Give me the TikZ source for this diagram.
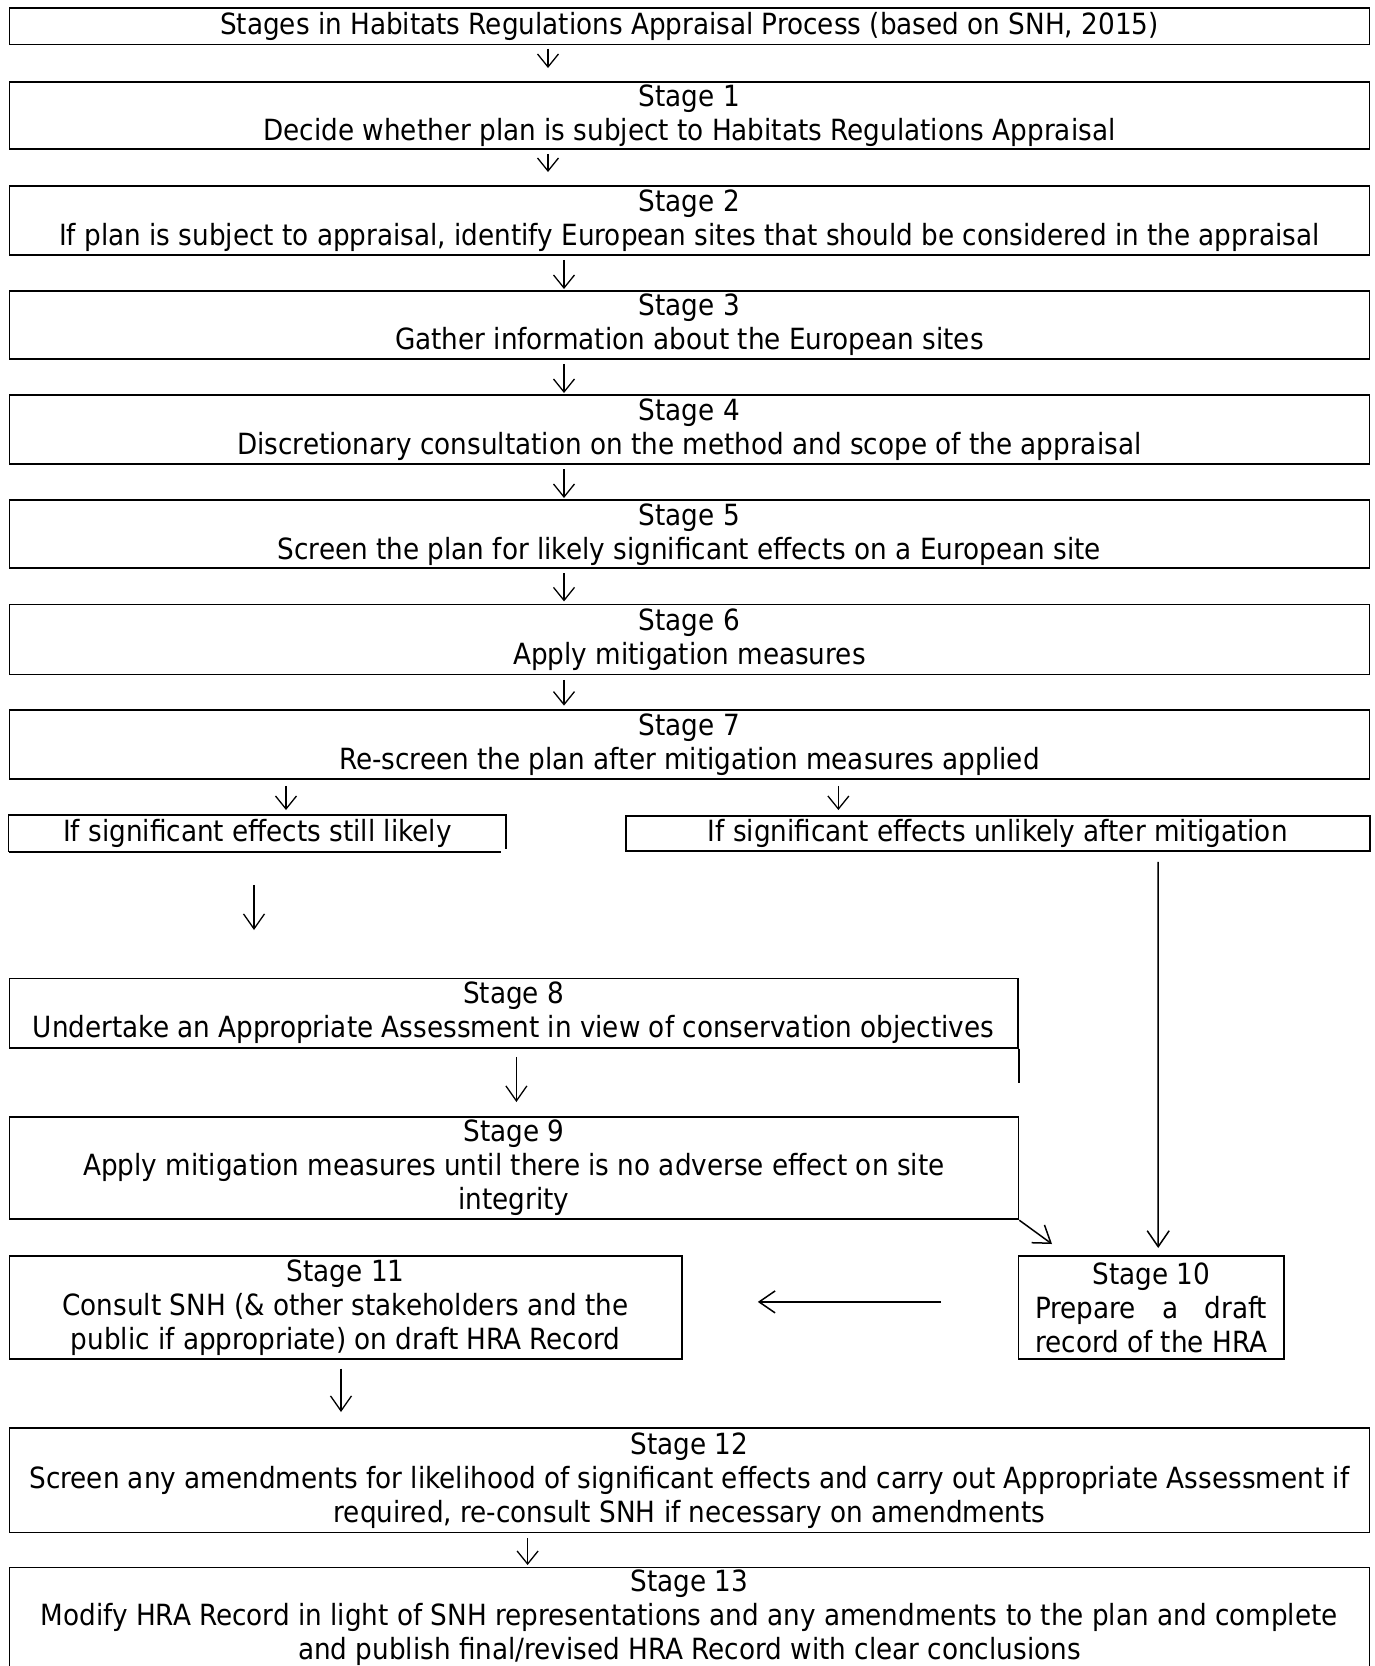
\documentclass[tikz,border=0pt]{standalone}
\usepackage{fontspec}
\setmainfont{DejaVu Sans Condensed}
\usepackage{calc}
\usetikzlibrary{calc,arrows.meta}
\tikzset{
	stagebox/.style={draw, line width=0.9pt, inner sep=0pt, anchor=north west, align=center},
	boxline/.style={line width=0.9pt},
	smalltip/.style={-{Straight Barb[length=6.5pt,width=10.5pt]}, line width=0.65pt},
	midtip/.style={-{Straight Barb[length=7.5pt,width=10.5pt]}, line width=0.65pt},
	bigtip/.style={-{Straight Barb[length=8pt,width=11pt]}, line width=0.75pt}
}

\begin{document}
\begin{tikzpicture}[x=1pt,y=-1pt,font=\fontsize{14.6}{17}\selectfont]
				\clip (0,0) rectangle (687.5,833);
				
				\node[stagebox, minimum width=680pt, minimum height=18.1pt] (title) at (4.25,3.7)
				{Stages in Habitats Regulations Appraisal Process (based on SNH, 2015)};
				\node[stagebox, minimum width=680pt, minimum height=33.5pt] (s1) at (4.25,40.4)
				{Stage 1\\Decide whether plan is subject to Habitats Regulations Appraisal};
				\node[stagebox, minimum width=680pt, minimum height=34.5pt] (s2) at (4.25,92.5)
				{Stage 2\\If plan is subject to appraisal, identify European sites that should be considered in the appraisal};
				\node[stagebox, minimum width=680pt, minimum height=34pt] (s3) at (4.25,145)
				{Stage 3\\Gather information about the European sites};
				\node[stagebox, minimum width=680pt, minimum height=34.5pt] (s4) at (4.25,197)
				{Stage 4\\Discretionary consultation on the method and scope of the appraisal};
				\node[stagebox, minimum width=680pt, minimum height=34pt] (s5) at (4.25,249.7)
				{Stage 5\\Screen the plan for likely significant effects on a European site};
				\node[stagebox, minimum width=680pt, minimum height=35pt] (s6) at (4.25,301.8)
				{Stage 6\\Apply mitigation measures};
				\node[stagebox, minimum width=680pt, minimum height=34.5pt] (s7) at (4.25,354.4)
				{Stage 7\\Re-screen the plan after mitigation measures applied};
				
				\node[stagebox, draw=none, minimum width=248pt, minimum height=17.5pt] (likely) at (4.25,407.5)
				{If significant effects still likely};
				\draw[boxline] (likely.south west) -- ++(246,0);
				\draw[boxline] (likely.south west) |- (likely.north east) -- ++(0,17);
				\node[stagebox, minimum width=372pt, minimum height=17.5pt] (unlikely) at (312.4,407.5)
				{If significant effects unlikely after mitigation};
				
				\node[stagebox, minimum width=504.25pt, minimum height=34.6pt] (s8) at (4.25,488.8)
				{Stage 8\\Undertake an Appropriate Assessment in view of conservation objectives};
				\draw[boxline] (s8.south east) -- ++(0,17.4);
				\node[stagebox, minimum width=504.5pt, minimum height=51.3pt] (s9) at (4.25,557.9)
				{Stage 9\\Apply mitigation measures until there is no adverse effect on site\\integrity};
				\node[stagebox, minimum width=132.7pt, minimum height=51.5pt] (s10) at (508.8,627.5)
				{Stage 10\\\makebox[\widthof{record of the HRA}][s]{Prepare a draft}\\record of the HRA};
				\node[stagebox, minimum width=336.25pt, minimum height=51.5pt] (s11) at (4.25,627.5)
				{Stage 11\\Consult SNH (\& other stakeholders and the\\public if appropriate) on draft HRA Record};
				\node[stagebox, minimum width=680pt, minimum height=52.3pt] (s12) at (4.25,713.5)
				{Stage 12\\Screen any amendments for likelihood of significant effects and carry out Appropriate Assessment if\\required, re-consult SNH if necessary on amendments};
				\node[stagebox, minimum width=680pt, minimum height=50.4pt] (s13) at (4.25,783.3)
				{Stage 13\\Modify HRA Record in light of SNH representations and any amendments to the plan and complete\\and publish final/revised HRA Record with clear conclusions};
				
				\draw[smalltip] ($(title.south west)+(269.75,1.6)$) -- ($(s1.north west)+(269.75,-6.4)$);
				\draw[smalltip] ($(s1.south west)+(269.75,2.1)$) -- ($(s2.north west)+(269.75,-6.5)$);
				\draw[smalltip] ($(s2.south west)+(277.75,2)$) -- ($(s3.north west)+(277.75,-0.5)$);
				\draw[smalltip] ($(s3.south west)+(277.75,2)$) -- ($(s4.north west)+(277.75,-0.5)$);
				\draw[smalltip] ($(s4.south west)+(277.75,2.2)$) -- ($(s5.north west)+(277.75,-0.7)$);
				\draw[smalltip] ($(s5.south west)+(277.75,2.1)$) -- ($(s6.north west)+(277.75,-1.1)$);
				\draw[smalltip] ($(s6.south west)+(277.75,2.2)$) -- ($(s7.north west)+(277.75,-1.6)$);
				\draw[smalltip] ($(s7.south west)+(138.75,3.1)$) -- ($(likely.north west)+(138.75,-2.5)$);
				\draw[smalltip] ($(s7.south west)+(414.95,3.1)$) -- ($(unlikely.north west)+(106.8,-2.5)$);
				
				\draw[midtip] ($(likely.south west)+(122.75,16.5)$) -- ($(s8.north west)+(122.75,-23.8)$);
				\draw[bigtip] ($(unlikely.south west)+(266.7,5)$) -- ($(s10.north west)+(70.3,-3.5)$);
				\draw[midtip] ($(s8.south west)+(253.95,4.1)$) -- ($(s9.north west)+(253.95,-6.9)$);
				\draw[bigtip] (s9.south east) -- ($(s10.north west)+(17.2,-5.5)$);
				\draw[bigtip] ($(s10.west)+(-38.3,-2.75)$) -- ($(s11.east)+(37.5,-2.75)$);
				\draw[midtip] ($(s11.south west)+(166.25,4.4)$) -- ($(s12.north west)+(166.25,-7.5)$);
				\draw[smalltip] ($(s12.south west)+(259.55,2.5)$) -- ($(s13.north west)+(259.55,-0.8)$);
\end{tikzpicture}
\end{document}
